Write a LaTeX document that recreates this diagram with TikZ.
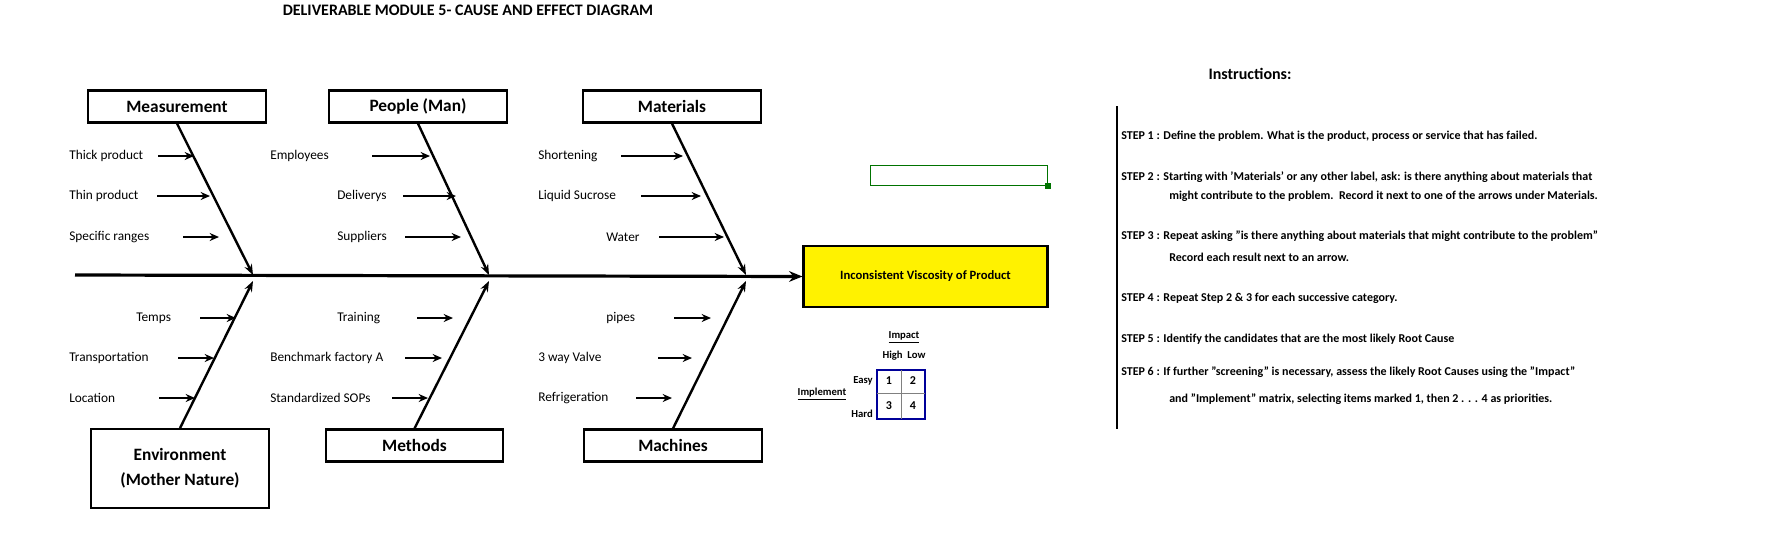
\documentclass[tikz,border=0pt]{standalone}
\usepackage{fontspec}
\setmainfont{Carlito}
\usetikzlibrary{arrows.meta}
\begin{document}
\begin{tikzpicture}[x=0.75pt,y=-0.75pt,
  cat/.style={draw,line width=1.6pt,minimum width=133pt,minimum height=24pt,font=\fontsize{13}{15}\selectfont\bfseries,inner sep=0pt},
  lbl/.style={anchor=west,font=\fontsize{10}{12}\selectfont,inner sep=0pt},
  bone/.style={line width=1.8pt,-{Stealth[length=8pt,width=6pt]}},
  sub/.style={line width=2pt,-{Stealth[length=7pt,width=6pt]}},
  stp/.style={anchor=west,font=\fontsize{9}{11}\selectfont\bfseries,inner sep=0pt},
  mx/.style={font=\fontsize{8}{10}\selectfont\bfseries,inner sep=0pt}]
\useasboundingbox (0,0) rectangle (1783,557);
\node[font=\fontsize{12}{14}\selectfont\bfseries] (title) at (468,10) {DELIVERABLE MODULE 5- CAUSE AND EFFECT DIAGRAM};
% category boxes
\node[cat] (meas) at (177,106.5) {Measurement};
\node[cat] (peop) at (418,106.5) {People (Man)};
\node[cat] (mat) at (672,106.5) {Materials};
\node[cat,minimum height=59pt,align=center,font=\fontsize{13}{19}\selectfont\bfseries] (env) at (180,468.5) {Environment\\(Mother Nature)};
\node[cat] (meth) at (414.5,445.5) {Methods};
\node[cat] (mach) at (673,445.5) {Machines};
\node[draw,line width=1.6pt,fill=yellow,minimum width=183pt,minimum height=46pt,font=\fontsize{9.5}{11}\selectfont\bfseries] (eff) at (925.5,276.5) {Inconsistent Viscosity of Product};
% spine
\coordinate (s0) at (75,275);
\coordinate (s1) at (253,275);
\coordinate (s2) at (489,275);
\coordinate (s3) at (746,275);
\coordinate (b1) at (253,281);
\coordinate (b2) at (489,281);
\coordinate (b3) at (746,281);
\draw[line width=2.4pt,-{Stealth[length=10pt,width=8pt]}] (s0) -- (eff.west);
\draw[bone] (meas.south) -- (s1);
\draw[bone] (peop.south) -- (s2);
\draw[bone] (mat.south) -- (s3);
\draw[bone] (env.north) -- (b1);
\draw[bone] (meth.north) -- (b2);
\draw[bone] (mach.north) -- (b3);
% causes
\foreach \t/\x/\y/\a/\b [count=\i] in {
 Thick product/69/156/158/194,
 Thin product/69/196/157/210,
 Specific ranges/69/237/183/219,
 Employees/270/156/372/430,
 Deliverys/337/196/403/456,
 Suppliers/337/237/405/461,
 Shortening/538/156/621/683,
 Liquid Sucrose/538/196/641/701,
 Water/606/237/659/724,
 Temps/136/318/200/236,
 Transportation/69/358/178/214,
 Location/69/398/159/195,
 Training/337/318/417/453,
 Benchmark factory A/270/358/405/442,
 Standardized SOPs/270/398/392/428,
 pipes/606/318/674/711,
 3 way Valve/538/358/658/692,
 Refrigeration/538/398/636/672}{
  \node[lbl] (c\i) at (\x,\y) {\t};
  \coordinate (f\i) at (\a,\y);
  \coordinate (g\i) at (\b,\y);
  \draw[sub] (f\i) -- (g\i);
}
% green box
\node[draw=green!45!black,line width=1.2pt,minimum width=133pt,minimum height=15pt,inner sep=0pt] (gb) at (959,175.5) {};
\node[fill=green!45!black,minimum size=4pt,inner sep=0pt] (gbh) at (1048,186) {};
% matrix
\node[mx] (imp) at (904,337) {\underline{Impact}};
\node[mx] (hl) at (904,356) {High\ \ Low};
\node[mx,anchor=east] (easy) at (873,381) {Easy};
\node[mx] (impl) at (822,394) {\underline{Implement}};
\node[mx,anchor=east] (hard) at (873,414) {Hard};
\draw[blue!60!black,line width=1.4pt] (877,370) rectangle (925,419);
\draw[gray,line width=0.6pt] (901,370) -- (901,419) (877,393) -- (925,393);
\node[mx,font=\fontsize{9}{11}\selectfont\bfseries] (m1) at (889,381) {1};
\node[mx,font=\fontsize{9}{11}\selectfont\bfseries] (m2) at (913,381) {2};
\node[mx,font=\fontsize{9}{11}\selectfont\bfseries] (m3) at (889,406) {3};
\node[mx,font=\fontsize{9}{11}\selectfont\bfseries] (m4) at (913,406) {4};
% instructions
\node[font=\fontsize{12}{14}\selectfont\bfseries] (ins) at (1250,74) {Instructions:};
\draw[line width=2pt] (1117,106) -- (1117,429);
\node[stp] (st1) at (1121,136) {STEP 1 : Define the problem. What is the product, process or service that has failed.};
\node[stp] (st2) at (1121,177) {STEP 2 : Starting with 'Materials' or any other label, ask: is there anything about materials that};
\node[stp] (st2b) at (1169,196) {might contribute to the problem.\ \ Record it next to one of the arrows under Materials.};
\node[stp] (st3) at (1121,236) {STEP 3 : Repeat asking "is there anything about materials that might contribute to the problem"};
\node[stp] (st3b) at (1169,257) {Record each result next to an arrow.};
\node[stp] (st4) at (1121,298) {STEP 4 : Repeat Step 2 \& 3 for each successive category.};
\node[stp] (st5) at (1121,339) {STEP 5 : Identify the candidates that are the most likely Root Cause};
\node[stp] (st6) at (1121,372) {STEP 6 : If further "screening" is necessary, assess the likely Root Causes using the "Impact"};
\node[stp] (st6b) at (1169,399) {and "Implement" matrix, selecting items marked 1, then 2 . . . 4 as priorities.};
\end{tikzpicture}
\end{document}
